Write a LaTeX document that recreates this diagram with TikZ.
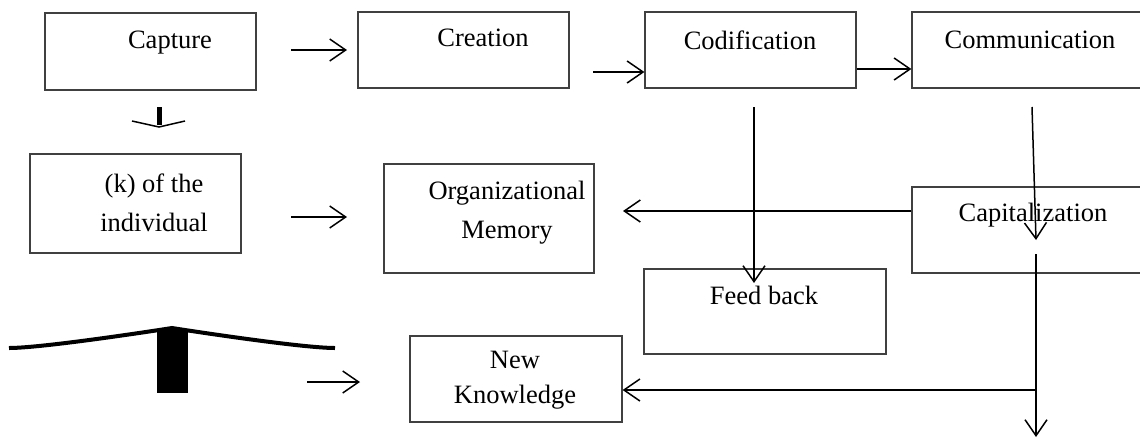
\documentclass[tikz,border=0pt]{standalone}
\usepackage{fontspec}
\setmainfont{Liberation Serif}
\usetikzlibrary{arrows.meta}

\tikzset{
  box/.style={draw=black!75, line width=1.2pt, inner sep=0pt},
  txt/.style={inner sep=0pt, align=center, font=\fontsize{26.5}{37}\selectfont},
  arr/.style={line width=1.5pt, -{Straight Barb[length=16pt,width=22pt]}}
}

\begin{document}
\begin{tikzpicture}[x=1pt, y=-1pt]
\useasboundingbox (0,0) rectangle (1140,437);
\clip (0,0) rectangle (1140,437);

% Draw the boxes
  \node[box, minimum width=211pt, minimum height=77pt] (capture) at (150.5,51.5) {};
  \node[box, minimum width=211pt, minimum height=76pt] (creation) at (463.5,50) {};
  \node[box, minimum width=211pt, minimum height=76pt] (codif) at (750.5,50) {};
  \node[box, minimum width=248pt, minimum height=76pt] (commu) at (1036,50) {};
  \node[box, minimum width=211pt, minimum height=99pt] (indiv) at (135.5,203.5) {};
  \node[box, minimum width=210pt, minimum height=109pt] (memory) at (489,218.5) {};
  \node[box, minimum width=248pt, minimum height=86pt] (capit) at (1036,230) {};
  \node[box, minimum width=242pt, minimum height=85pt] (feed) at (765,311.5) {};
  \node[box, minimum width=212pt, minimum height=86pt] (newk) at (516,379) {};

  % Texts of the boxes
  \node[txt] (capturetxt) at (170,43) {Capture};
  \node[txt] (creationtxt) at (483,38) {Creation};
  \node[txt] (codiftxt) at (750,40) {Codification};
  \node[txt] (commutxt) at (1030,40) {Communication};
  \node[txt] (indivtxt) at (154,202.5) {(k) of the\\[2pt] individual};
  \node[txt] (memorytxt) at (507,212.5) {Organizational\\[2pt] Memory};
  \node[txt] (capittxt) at (1033,215) {Capitalization};
  \node[txt] (feedtxt) at (764,295) {Feed back};
  \node[txt] (newktxt) at (515,380.5) {New\\[-2pt] Knowledge};

  % Free ends of the arrows
  \coordinate (a1s) at (291,50);
  \coordinate (a1e) at (347,50);
  \coordinate (a2s) at (593,72);
  \coordinate (a4s) at (291,217);
  \coordinate (a4e) at (347,217);
  \coordinate (memtip) at (623,211);
  \coordinate (codifs) at (754,107);
  \coordinate (feedtip) at (754,283);
  \coordinate (commus) at (1032,107);
  \coordinate (capittip) at (1036,240);
  \coordinate (capits) at (1036,254);
  \coordinate (branch) at (1036,390);
  \coordinate (bottom) at (1036,437);
  \coordinate (a9s) at (307,382);
  \coordinate (a9e) at (360,382);

  % Draw the arrows
  \draw[arr] (a1s) -- (a1e);
  \draw[arr] (a2s) -- ([yshift=-22pt]codif.west);
  \draw[arr] ([yshift=-19pt]codif.east) -- ([yshift=-19pt]commu.west);
  \draw[arr] (a4s) -- (a4e);
  \draw[arr] ([yshift=19pt]capit.west) -- (memtip);
  \draw[arr] (codifs) -- (feedtip);
  \draw[arr] (commus) -- (capittip);
  \draw[arr] (capits) -- (bottom);
  \draw[arr] (branch) -- (newk.east |- branch);
  \draw[arr] (a9s) -- (a9e);

  % The small mark under Capture
  \draw[line width=5pt] (159,107) -- (159,125);
  \draw[line width=1.5pt] (132,121) -- (159,127) -- (185,121);

  % The big mark at the bottom left
  \draw[line width=4pt] (9,348) .. controls (40,348) and (140,333) .. (172,328)
    .. controls (204,333) and (304,348) .. (335,348);
  \fill (157,330) rectangle (188,393);
\end{tikzpicture}
\end{document}
